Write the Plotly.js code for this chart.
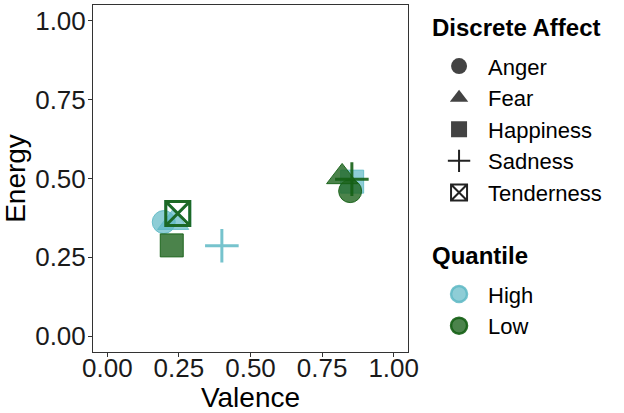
<!DOCTYPE html>
<html>
<head>
<meta charset="utf-8">
<script src="https://cdn.plot.ly/plotly-3.0.1.min.js"></script>
<style>
  html, body { margin: 0; padding: 0; background: #fff; }
  #chart { width: 624px; height: 413px; }
</style>
</head>
<body>
<div id="chart"></div>
<script>
// values
const affects = ['Anger', 'Fear', 'Happiness', 'Sadness', 'Tenderness'];
const quantiles = ['High', 'Low'];
const highValence = [0.197, 0.23, 0.855, 0.40, 0.246];
const highEnergy = [0.362, 0.36, 0.49, 0.287, 0.389];
const lowValence = [0.848, 0.82, 0.225, 0.854, 0.246];
const lowEnergy = [0.46, 0.505, 0.288, 0.498, 0.389];
const axisTicks = [0, 0.25, 0.5, 0.75, 1];
const tickLabels = ['0.00', '0.25', '0.50', '0.75', '1.00'];

const symbols = {
  Anger: 'circle',
  Fear: 'triangle-up',
  Happiness: 'square',
  Sadness: 'cross-thin-open',
  Tenderness: 'square-x-open'
};
const sizes = { Anger: 23, Fear: 27, Happiness: 23, Sadness: 24, Tenderness: 24 };

const qStyle = {
  High: { fill: 'rgba(94,184,196,0.7)', edge: 'rgba(94,184,196,0.85)' },
  Low: { fill: 'rgba(30,100,30,0.8)', edge: 'rgba(20,95,20,0.9)' }
};
const qData = {
  High: { x: highValence, y: highEnergy },
  Low: { x: lowValence, y: lowEnergy }
};

const font = 'Liberation Sans, Arial, sans-serif';
const traces = [];

// points: one trace per quantile x affect
quantiles.forEach(q => {
  affects.forEach((a, i) => {
    const open = symbols[a].endsWith('-open');
    traces.push({
      type: 'scatter',
      mode: 'markers',
      x: [qData[q].x[i]],
      y: [qData[q].y[i]],
      showlegend: false,
      hoverinfo: 'skip',
      marker: {
        symbol: symbols[a],
        size: sizes[a],
        color: open ? qStyle[q].edge : qStyle[q].fill,
        line: { color: qStyle[q].edge, width: open ? 3 : 1 }
      }
    });
  });
});

// shape legend
affects.forEach(a => {
  const open = symbols[a].endsWith('-open');
  traces.push({
    type: 'scatter',
    mode: 'markers',
    x: [null],
    y: [null],
    name: a,
    legend: 'legend',
    marker: {
      symbol: symbols[a],
      size: 16,
      color: open ? '#222' : 'rgba(20,20,20,0.8)',
      line: { color: '#222', width: open ? 2 : 0 }
    }
  });
});

// colour legend
quantiles.forEach(q => {
  traces.push({
    type: 'scatter',
    mode: 'markers',
    x: [null],
    y: [null],
    name: q,
    legend: 'legend2',
    marker: {
      symbol: 'circle',
      size: 16,
      color: qStyle[q].fill,
      line: { color: qStyle[q].edge, width: 2.5 }
    }
  });
});

const axisBase = {
  range: [-0.05, 1.05],
  tickvals: axisTicks,
  ticktext: tickLabels,
  showgrid: false,
  zeroline: false,
  showline: true,
  mirror: true,
  linecolor: '#333',
  linewidth: 1,
  ticks: 'outside',
  ticklen: 4,
  tickcolor: '#333',
  tickfont: { family: font, size: 26, color: '#1a1a1a' }
};

const legendTitle = (text, y) => ({
  text: '<b>' + text + '</b>',
  xref: 'paper', yref: 'paper',
  x: 1.07, y: y, xanchor: 'left', yanchor: 'middle',
  showarrow: false,
  font: { family: font, size: 24, color: '#000' }
});

const layout = {
  width: 624,
  height: 413,
  margin: { l: 93, r: 216, t: 5, b: 61 },
  paper_bgcolor: '#fff',
  plot_bgcolor: '#fff',
  font: { family: font, color: '#000' },
  xaxis: Object.assign({}, axisBase, {
    ticklabelstandoff: -11,
    title: { text: 'Valence', font: { family: font, size: 28, color: '#000' }, standoff: 3 }
  }),
  yaxis: Object.assign({}, axisBase, {
    ticklabelstandoff: -3,
    title: { text: 'Energy', font: { family: font, size: 28, color: '#000' }, standoff: 4 }
  }),
  annotations: [
    legendTitle('Discrete Affect', 0.934),
    legendTitle('Quantile', 0.277)
  ],
  legend: {
    x: 1.07, y: 0.884, xanchor: 'left', yanchor: 'top',
    font: { family: font, size: 22, color: '#000' },
    itemwidth: 48,
    tracegroupgap: 0
  },
  legend2: {
    x: 1.07, y: 0.227, xanchor: 'left', yanchor: 'top',
    font: { family: font, size: 22, color: '#000' },
    itemwidth: 48
  }
};

Plotly.newPlot('chart', traces, layout, { displayModeBar: false, staticPlot: true });
</script>
</body>
</html>
